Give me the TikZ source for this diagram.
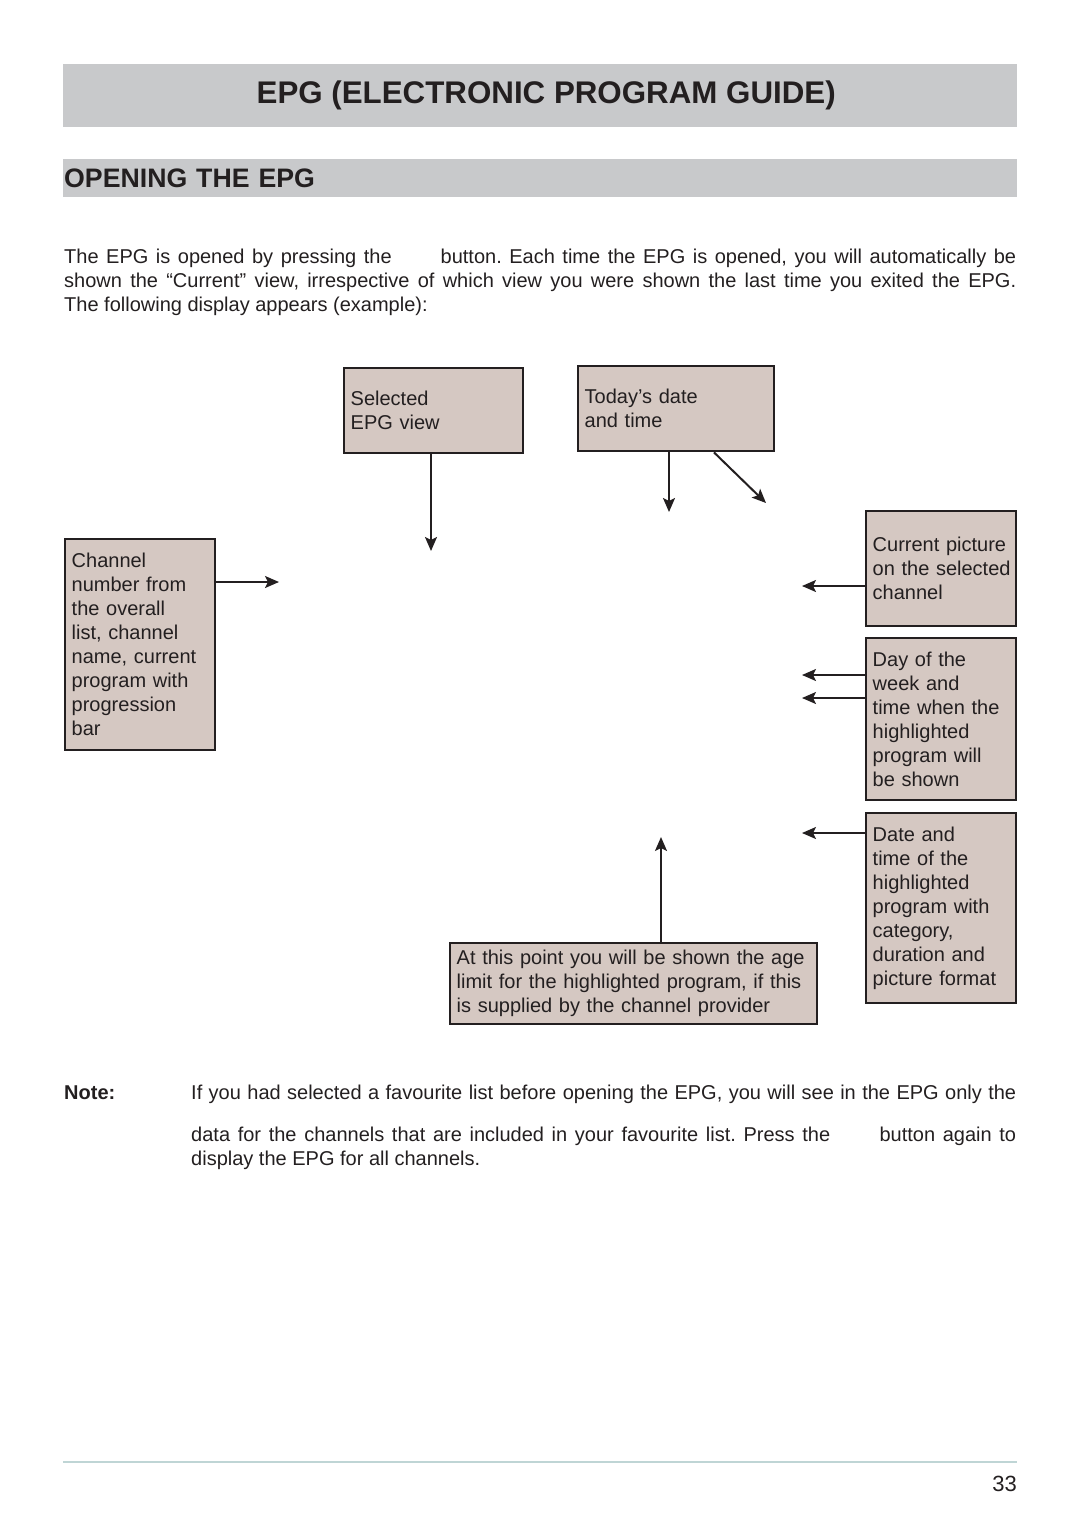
\documentclass[tikz,border=0pt]{standalone}
\usepackage{fontspec}
\setmainfont{Liberation Sans}
\usetikzlibrary{arrows.meta,calc}
\definecolor{ink}{HTML}{231F20}
\definecolor{boxfill}{HTML}{D5C8C2}
\definecolor{headfill}{HTML}{C8C9CB}
\definecolor{rulecol}{HTML}{BFD5D5}
\newcommand\bl[1]{\mbox{#1}}
\frenchspacing
\begin{document}
\begin{tikzpicture}[x=1pt,y=-1pt,
  txt/.style={font=\fontsize{20}{24}\selectfont, text=ink, inner sep=0pt},
  callout/.style={draw=ink, line width=2.4pt, fill=boxfill, font=\fontsize{20}{24}\selectfont,
    text=ink, align=left, inner xsep=6.5pt, inner ysep=0pt, anchor=north west},
  arr/.style={draw=ink, line width=2pt, -{Stealth[length=14pt,width=12pt,inset=3pt]}},
  headbar/.style={fill=headfill, anchor=north west, inner sep=0pt, text=ink},
]
\useasboundingbox (0,0) rectangle (1080,1524);

% headings
\node[headbar, minimum width=954pt, minimum height=63pt,
  font=\fontsize{31.3}{36}\selectfont\bfseries] (head) at (63,64)
  {\hspace*{12pt}EPG (ELECTRONIC PROGRAM GUIDE)};
\node[headbar, minimum width=954pt, minimum height=38pt, inner xsep=1pt,
  text width=952pt, align=left, font=\fontsize{26.7}{30}\selectfont\bfseries] (sub) at (63,159)
  {OPENING THE EPG};

% intro paragraph
\node[txt, anchor=base west] (p1) at (64,263)
  {\makebox[952pt][s]{The EPG is opened by pressing the \hspace{34pt} button. Each time the EPG is opened, you will automatically be}};
\node[txt, anchor=base west] (p2) at (64,287)
  {\makebox[952pt][s]{shown the “Current” view, irrespective of which view you were shown the last time you exited the EPG.}};
\node[txt, anchor=base west] (p3) at (64,311)
  {The following display appears (example):};

% callout boxes
\node[callout, minimum width=179pt, minimum height=85pt, text width=166pt] (sel) at (343,367)
  {\bl{Selected}\\\bl{EPG view}};
\node[callout, minimum width=196pt, minimum height=85pt, text width=183pt] (today) at (577,365)
  {\bl{Today’s date}\\\bl{and time}};
\node[callout, minimum width=150pt, minimum height=211pt, text width=137pt] (chan) at (64,538)
  {\bl{Channel}\\\bl{number from}\\\bl{the overall}\\\bl{list, channel}\\\bl{name, current}\\\bl{program with}\\\bl{progression}\\\bl{bar}};
\node[callout, minimum width=150pt, minimum height=115pt, text width=137pt] (cur) at (865,510)
  {\bl{Current picture}\\\bl{on the selected}\\\bl{channel}};
\node[callout, minimum width=150pt, minimum height=162pt, text width=137pt] (day) at (865,637)
  {\bl{Day of the}\\\bl{week and}\\\bl{time when the}\\\bl{highlighted}\\\bl{program will}\\\bl{be shown}};
\node[callout, minimum width=150pt, minimum height=190pt, text width=137pt] (date) at (865,812)
  {\bl{Date and}\\\bl{time of the}\\\bl{highlighted}\\\bl{program with}\\\bl{category,}\\\bl{duration and}\\\bl{picture format}};
\node[callout, minimum width=367pt, minimum height=81pt, text width=354pt] (age) at (449,942)
  {\bl{At this point you will be shown the age}\\\bl{limit for the highlighted program, if this}\\\bl{is supplied by the channel provider}};

% connector free ends
\coordinate (tsel) at (431,551);
\coordinate (ttoday) at (669,512);
\coordinate (tdiag) at (766,503);
\coordinate (tchan) at (279,582);
\coordinate (tcur) at (802,586);
\coordinate (tday1) at (802,675);
\coordinate (tday2) at (802,698);
\coordinate (tdate) at (802,833);
\coordinate (tage) at (661,837);

\draw[arr] (sel.south -| tsel) -- (tsel);
\draw[arr] (today.south -| ttoday) -- (ttoday);
\draw[arr] ($(today.south west)+(137,0)$) -- (tdiag);
\draw[arr] (chan.east |- tchan) -- (tchan);
\draw[arr] (cur.west |- tcur) -- (tcur);
\draw[arr] (day.west |- tday1) -- (tday1);
\draw[arr] (day.west |- tday2) -- (tday2);
\draw[arr] (date.west |- tdate) -- (tdate);
\draw[arr] (age.north -| tage) -- (tage);

% note
\node[txt, anchor=base west, font=\fontsize{20}{24}\selectfont\bfseries] (note) at (64,1099) {Note:};
\node[txt, anchor=base west] (n1) at (191,1099)
  {\makebox[825pt][s]{If you had selected a favourite list before opening the EPG, you will see in the EPG only the}};
\node[txt, anchor=base west] (n2) at (191,1141)
  {\makebox[825pt][s]{data for the channels that are included in your favourite list. Press the \hspace{34pt} button again to}};
\node[txt, anchor=base west] (n3) at (191,1165)
  {display the EPG for all channels.};

% footer
\draw[rulecol, line width=2.5pt] (63,1462) -- (1017,1462);
\node[txt, anchor=base east, font=\fontsize{22}{26}\selectfont] (pg) at (1017,1491) {33};
\end{tikzpicture}
\end{document}
